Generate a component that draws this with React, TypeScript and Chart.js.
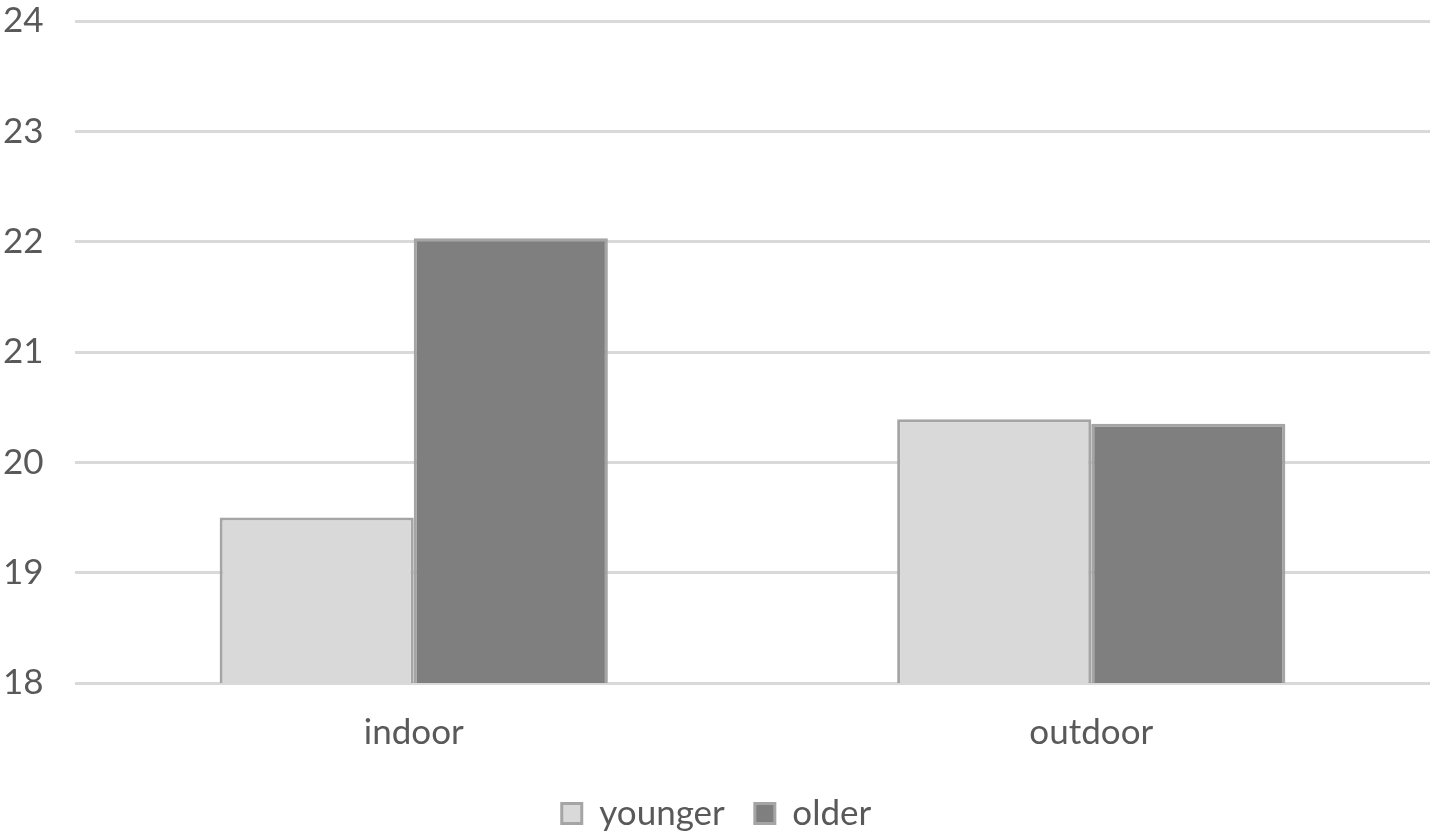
import React, { useEffect, useRef } from "react";
import { Chart, registerables } from "chart.js";

Chart.register(...registerables);

const categories = ["indoor", "outdoor"];
const youngerValues = [19.5, 20.39];
const olderValues = [22.03, 20.35];
const yMin = 18;
const yMax = 24;

export default function App() {
  const ref = useRef<HTMLCanvasElement | null>(null);
  useEffect(() => {
    document.body.style.margin = "0";
    const ctx = ref.current!;
    const font = "Lato, 'Open Sans', sans-serif";
    const chart = new Chart(ctx, {
      type: "bar",
      data: {
        labels: categories,
        datasets: [
          {
            label: "younger",
            data: youngerValues,
            backgroundColor: "#d9d9d9",
            borderColor: "#a5a5a5",
            borderWidth: 3,
            borderSkipped: "bottom",
          },
          {
            label: "older",
            data: olderValues,
            backgroundColor: "#7f7f7f",
            borderColor: "#a5a5a5",
            borderWidth: 3,
            borderSkipped: "bottom",
          },
        ],
      },
      options: {
        animation: false,
        responsive: false,
        maintainAspectRatio: false,
        layout: { padding: { top: 0, right: 7, left: 3, bottom: -4 } },
        datasets: { bar: { barPercentage: 1, categoryPercentage: 0.573 } },
        plugins: {
          tooltip: { enabled: false },
          legend: {
            position: "bottom",
            labels: {
              color: "#595959",
              font: { family: font, size: 35 },
              boxWidth: 20,
              boxHeight: 20,
              padding: 30,
            },
          },
        },
        scales: {
          x: {
            grid: { display: false },
            border: { display: false },
            afterFit: (scale: any) => {
              scale.height = 83;
            },
            ticks: { color: "#595959", font: { family: font, size: 35 }, padding: 21 },
          },
          y: {
            min: yMin,
            max: yMax,
            afterFit: (scale: any) => {
              scale.width = 72;
            },
            ticks: {
              stepSize: 1,
              color: "#595959",
              font: { family: font, size: 35 },
              padding: 0,
              crossAlign: "far",
            },
            grid: { color: "#d9d9d9", lineWidth: 3, drawTicks: false },
            border: { display: false },
          },
        },
      },
    });
    return () => chart.destroy();
  }, []);
  return (
    <div style={{ position: "absolute", left: 0, top: 0, width: 1437, height: 837, background: "#fff" }}>
      <canvas ref={ref} width={1437} height={837} style={{ width: 1437, height: 837 }} />
    </div>
  );
}
